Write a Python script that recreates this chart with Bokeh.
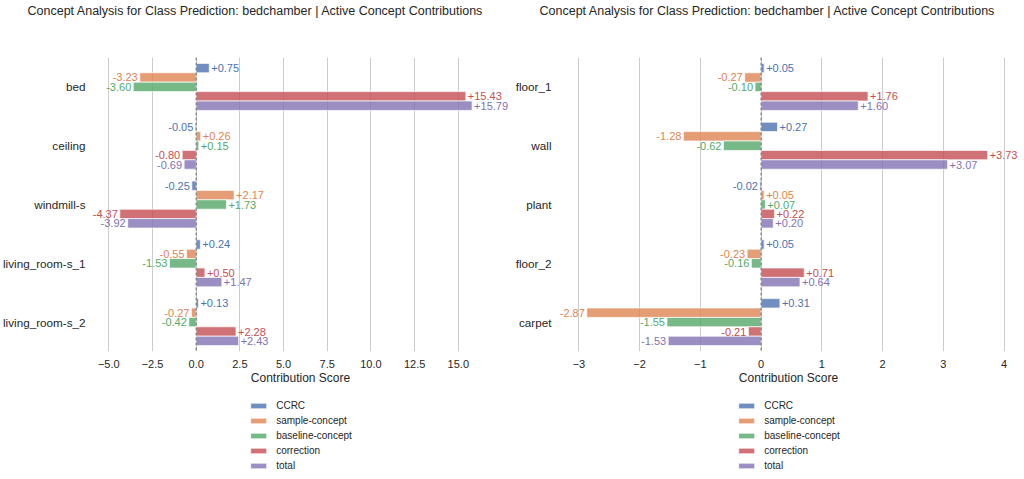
from bokeh.plotting import figure
from bokeh.models import (ColumnDataSource, Range1d, Legend, LegendItem,
                          Span, FixedTicker, LabelSet)
from bokeh.layouts import row, column
from bokeh.embed import file_html
from bokeh.resources import INLINE
from bokeh.core.properties import value

TITLE = "Concept Analysis for Class Prediction: bedchamber | Active Concept Contributions"
SERIES = ["CCRC", "sample-concept", "baseline-concept", "correction", "total"]
COLORS = ["#4C72B0", "#DD8452", "#55A868", "#C44E52", "#8172B3"]
X_LABEL = "Contribution Score"

left_concepts = ["bed", "ceiling", "windmill-s", "living_room-s_1", "living_room-s_2"]
left_ccrc = [0.75, -0.05, -0.25, 0.24, 0.13]
left_sample = [-3.23, 0.26, 2.17, -0.55, -0.27]
left_baseline = [-3.60, 0.15, 1.73, -1.53, -0.42]
left_correction = [15.43, -0.80, -4.37, 0.50, 2.28]
left_total = [15.79, -0.69, -3.92, 1.47, 2.43]
left_ticks = [-5.0, -2.5, 0.0, 2.5, 5.0, 7.5, 10.0, 12.5, 15.0]
left_tick_labels = ["\u22125.0", "\u22122.5", "0.0", "2.5", "5.0", "7.5", "10.0", "12.5", "15.0"]

right_concepts = ["floor_1", "wall", "plant", "floor_2", "carpet"]
right_ccrc = [0.05, 0.27, -0.02, 0.05, 0.31]
right_sample = [-0.27, -1.28, 0.05, -0.23, -2.87]
right_baseline = [-0.10, -0.62, 0.07, -0.16, -1.55]
right_correction = [1.76, 3.73, 0.22, 0.71, -0.21]
right_total = [1.60, 3.07, 0.20, 0.64, -1.53]
right_ticks = [-3, -2, -1, 0, 1, 2, 3, 4]
right_tick_labels = ["\u22123", "\u22122", "\u22121", "0", "1", "2", "3", "4"]

FONT = "Liberation Sans"
TXT = "#262626"
OFFSETS = [-0.32, -0.16, 0.0, 0.16, 0.32]


def make_title(width, b_left, b_right, title_offset):
    t = figure(width=width, height=26, x_range=Range1d(0, 1), y_range=Range1d(0, 1),
               output_backend="svg", toolbar_location=None,
               x_axis_location=None, y_axis_location=None,
               min_border_left=b_left, min_border_right=b_right,
               min_border_top=0, min_border_bottom=0)
    t.outline_line_color = None
    t.grid.grid_line_color = None
    t.title.text = TITLE
    t.title.align = "left"
    t.title.offset = title_offset
    t.title.standoff = 2
    t.title.text_font_size = "12.5px"
    t.title.text_font = FONT
    t.title.text_font_style = "normal"
    t.title.text_color = TXT
    return t


def make_panel(concepts, series_vals, ticks, tick_labels, xlim, width, b_left, b_right,
               label_standoff):
    n = len(concepts)
    idx = list(range(n))
    p = figure(width=width, height=365,
               y_range=Range1d(n - 0.5, -0.5),
               x_range=Range1d(xlim[0], xlim[1]),
               output_backend="svg", toolbar_location=None,
               min_border_left=b_left, min_border_right=b_right,
               min_border_top=31, min_border_bottom=40)
    p.outline_line_color = None
    p.ygrid.grid_line_color = None
    p.xgrid.ticker = FixedTicker(ticks=ticks)
    p.xgrid.grid_line_color = "#cccccc"

    sources = []
    for name, vals, color, off in zip(SERIES, series_vals, COLORS, OFFSETS):
        ys = [i + off for i in idx]
        src = ColumnDataSource(dict(y=ys, val=vals))
        sources.append(src)
        p.hbar(y="y", left=0, right="val", height=0.16,
               source=src, fill_color=color, fill_alpha=0.8,
               line_color="white", line_alpha=0.7, line_width=1)
        pos = dict(y=[y for y, v in zip(ys, vals) if v >= 0],
                   val=[v for v in vals if v >= 0],
                   label=[f"{v:+.2f}" for v in vals if v >= 0])
        neg = dict(y=[y for y, v in zip(ys, vals) if v < 0],
                   val=[v for v in vals if v < 0],
                   label=[f"{v:.2f}" for v in vals if v < 0])
        p.add_layout(LabelSet(x="val", y="y", text="label", source=ColumnDataSource(pos),
                              text_align="left", text_baseline="middle", x_offset=2,
                              text_color=color, text_font_size="11px",
                              text_font=value(FONT)))
        p.add_layout(LabelSet(x="val", y="y", text="label", source=ColumnDataSource(neg),
                              text_align="right", text_baseline="middle", x_offset=-2,
                              text_color=color, text_font_size="11px",
                              text_font=value(FONT)))

    p.add_layout(Span(location=0, dimension="height", line_color="#666666",
                      line_dash="3 2", line_width=1))

    ax = p.xaxis[0]
    ax.ticker = FixedTicker(ticks=ticks)
    ax.major_label_overrides = {t: l for t, l in zip(ticks, tick_labels)}
    ax.axis_line_color = None
    ax.major_tick_line_color = None
    ax.minor_tick_line_color = None
    ax.major_label_standoff = 2
    ax.major_label_text_font_size = "11px"
    ax.major_label_text_font = FONT
    ax.major_label_text_color = TXT
    ax.axis_label = X_LABEL
    ax.axis_label_standoff = 0
    ax.axis_label_text_font_size = "12px"
    ax.axis_label_text_font = FONT
    ax.axis_label_text_font_style = "normal"
    ax.axis_label_text_color = TXT

    ay = p.yaxis[0]
    ay.ticker = FixedTicker(ticks=idx)
    ay.major_label_overrides = {i: c for i, c in zip(idx, concepts)}
    ay.axis_line_color = None
    ay.major_tick_line_color = None
    ay.minor_tick_line_color = None
    ay.major_label_standoff = label_standoff
    ay.major_label_text_font_size = "11.7px"
    ay.major_label_text_font = FONT
    ay.major_label_text_color = TXT
    return p, sources


def make_legend(width, b_left, b_right, sources):
    q = figure(width=width, height=86, x_range=Range1d(0, 1), y_range=Range1d(100, 101),
               output_backend="svg", toolbar_location=None,
               x_axis_location=None, y_axis_location=None,
               min_border_left=b_left, min_border_right=b_right,
               min_border_top=0, min_border_bottom=0)
    q.outline_line_color = None
    q.grid.grid_line_color = None
    items = []
    for name, color, src in zip(SERIES, COLORS, sources):
        r = q.hbar(y="y", left=0, right="val", height=0.16, source=src,
                   fill_color=color, fill_alpha=0.8,
                   line_color="white", line_alpha=0.7, line_width=1)
        items.append(LegendItem(label=name, renderers=[r]))
    legend = Legend(items=items, location="top_center", orientation="vertical",
                    label_text_font_size="10px", label_text_font=FONT,
                    label_text_color=TXT,
                    glyph_width=20, glyph_height=7, label_height=14, spacing=1,
                    label_standoff=8, padding=0, margin=7,
                    border_line_alpha=0, background_fill_alpha=0)
    q.add_layout(legend)
    return q


# frame geometry: left panel 88..509 px, right panel 556..1018 px
W1, BL1, BR1 = 512, 88, 3
W2, BL2, BR2 = 512, 44, 6
left_xlim = (-5.99, 17.93)
right_xlim = (-3.336, 4.238)

p1, s1 = make_panel(left_concepts,
                    [left_ccrc, left_sample, left_baseline, left_correction, left_total],
                    left_ticks, left_tick_labels, left_xlim, W1, BL1, BR1, 0)
p2, s2 = make_panel(right_concepts,
                    [right_ccrc, right_sample, right_baseline, right_correction, right_total],
                    right_ticks, right_tick_labels, right_xlim, W2, BL2, BR2, 1)

left_col = column(make_title(W1, BL1, BR1, -64), p1, make_legend(W1, BL1, BR1, s1))
right_col = column(make_title(W2, BL2, BR2, -19), p2, make_legend(W2, BL2, BR2, s2))

layout = row(left_col, right_col)
open("out.html", "w").write(file_html(layout, INLINE))
